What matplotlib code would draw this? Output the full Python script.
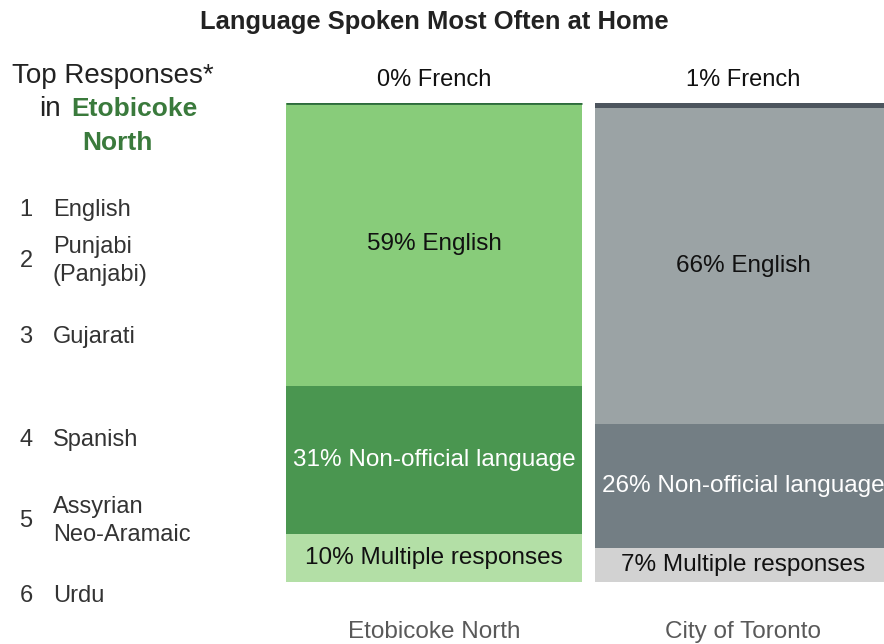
import numpy as np
import matplotlib.pyplot as plt

plt.rcParams['font.family'] = ['Liberation Sans', 'DejaVu Sans']

# data
places = ['Etobicoke North', 'City of Toronto']
segments = ['Multiple responses', 'Non-official language', 'English', 'French']
multiple = [10, 7]
non_official = [31, 26]
english = [59, 66]
french = [0, 1]

top_langs = ['English', 'Punjabi\n(Panjabi)', 'Gujarati', 'Spanish',
             'Assyrian\nNeo-Aramaic', 'Urdu']

colors = {
    'Etobicoke North': ['#b3dfa6', '#4a9650', '#88cc7a', '#2d6b3c'],
    'City of Toronto': ['#d2d2d2', '#737e84', '#9ba3a5', '#4d555e'],
}
text_colors = ['#111111', 'white', '#111111']

W, H = 884, 644
fig = plt.figure(figsize=(W / 100, H / 100), dpi=100)
ax = fig.add_axes([286 / W, (H - 582) / H, (884 - 286) / W, (582 - 103) / H])

x = np.arange(len(places))
width = 0.958
stack = [multiple, non_official, english, french]
bottom = np.zeros(len(places))
for i, vals in enumerate(stack):
    for j, p in enumerate(places):
        ax.bar(x[j], vals[j], width, bottom=bottom[j], color=colors[p][i],
               linewidth=0)
        if i < 3:
            ax.text(x[j], bottom[j] + vals[j] / 2,
                    f'{vals[j]}% {segments[i]}', ha='center', va='center',
                    fontsize=17.5, color=text_colors[i])
    bottom += np.array(vals)

# thin line on top for the French share, and its label above
for j, p in enumerate(places):
    ax.plot([x[j] - width / 2, x[j] + width / 2], [bottom[j], bottom[j]],
            color=colors[p][3], lw=2, solid_capstyle='butt')
    ax.text(x[j], 104.7, f'{french[j]}% French', ha='center', va='center',
            fontsize=17, color='#111111')

ax.set_xlim(-0.479, 1.456)
ax.set_ylim(0, 100)
ax.axis('off')

for j, p in enumerate(places):
    ax.text(x[j], -10.4, p, ha='center', va='center', fontsize=17.5,
            color='#595959')

fig.text(434 / W, 1 - 22 / H, 'Language Spoken Most Often at Home',
         ha='center', va='center', fontsize=18.4, fontweight='bold',
         color='#222222')

# left panel
fig.text(113 / W, 1 - 76 / H, 'Top Responses*', ha='center', va='center',
         fontsize=20, color='#222222')
fig.text(61 / W, 1 - 109 / H, 'in', ha='right', va='center',
         fontsize=20, color='#222222')
fig.text(71 / W, 1 - 109 / H, 'Etobicoke', ha='left', va='center',
         fontsize=19, color='#3a7a3c', fontweight='semibold')
fig.text(117 / W, 1 - 143 / H, 'North', ha='center', va='center',
         fontsize=19, color='#3a7a3c', fontweight='semibold')

rank_y = [210, 261, 337, 440, 521, 596]
for k, (lang, yy) in enumerate(zip(top_langs, rank_y)):
    fig.text(26 / W, 1 - yy / H, str(k + 1), ha='center', va='center',
             fontsize=17, color='#333333')
    fig.text(53 / W, 1 - yy / H, lang, ha='left', va='center',
             fontsize=17, color='#333333', linespacing=1.35)

fig.savefig('out.png', dpi=100)
